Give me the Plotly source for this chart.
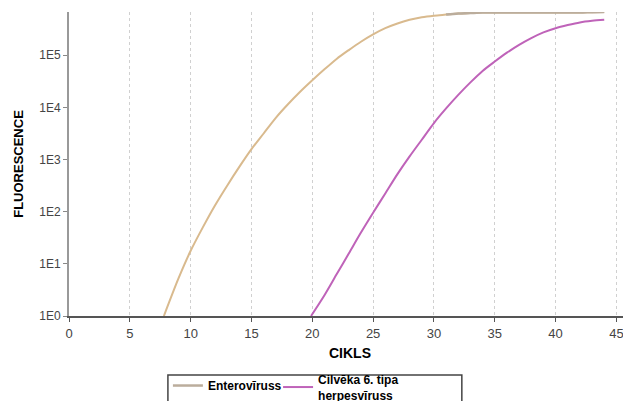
import plotly.graph_objects as go

# Data
entero_cycles = [7.8, 9, 10, 11, 12, 13, 14, 15, 16, 17, 18, 19, 20, 21, 22, 23, 24, 25,
                 26, 27, 28, 29, 30, 31, 32, 33, 34, 35, 36, 37, 38, 39, 40, 41, 42, 43, 44]
entero_fluor = [1.0, 5.25, 17.8, 50.1, 131.8, 316, 724, 1585, 3162, 6310, 11480, 19950,
                33110, 53700, 85110, 125900, 182000, 251200, 331100, 407400, 478600, 537000,
                575400, 602600, 631000, 645700, 660700, 660700, 660700, 660700, 660700,
                660700, 660700, 660700, 660700, 670000, 676000]
entero_plateau_cycles = [31, 32, 33, 34, 35, 36, 37, 38, 39, 40, 41, 42, 43, 44]
entero_plateau_fluor = [602600, 631000, 645700, 660700, 660700, 660700, 660700, 660700,
                        660700, 660700, 660700, 660700, 670000, 676000]

hhv6_cycles = [19.9, 21, 22, 23, 24, 25, 26, 27, 28, 29, 30, 31, 32, 33, 34, 35, 36, 37,
               38, 39, 40, 41, 42, 43, 44]
hhv6_fluor = [1.0, 2.5, 6.3, 15.8, 39.8, 95.5, 224, 525, 1148, 2399, 5012, 9550, 17380,
              30200, 50120, 75860, 112200, 158500, 213800, 275400, 331100, 380200,
              426600, 457100, 478600]

x_ticks = [0, 5, 10, 15, 20, 25, 30, 35, 40, 45]
y_tickvals = [1, 10, 100, 1000, 10000, 100000]
y_ticktext = ["1E0", "1E1", "1E2", "1E3", "1E4", "1E5"]

fig = go.Figure()
fig.add_trace(go.Scatter(x=entero_cycles, y=entero_fluor, mode="lines",
                         name="<b>Enterovīruss</b>",
                         line=dict(color="#D9BA8E", width=2, shape="spline", smoothing=0.8),
                         legendgroup="e", showlegend=False))
fig.add_trace(go.Scatter(x=entero_plateau_cycles, y=entero_plateau_fluor, mode="lines",
                         name="<b>Enterovīruss</b>",
                         line=dict(color="#BBAD9C", width=2.5, shape="spline", smoothing=0.8),
                         legendgroup="e", showlegend=True, legend="legend"))
fig.add_trace(go.Scatter(x=hhv6_cycles, y=hhv6_fluor, mode="lines",
                         name="<b>Cilvēka 6. tipa<br>herpesvīruss</b>",
                         line=dict(color="#BF63B9", width=2, shape="spline", smoothing=0.8),
                         legend="legend2"))

legend_font = dict(size=12, color="#000", family="Liberation Sans, Arial, sans-serif")

fig.update_layout(
    width=631, height=401,
    margin=dict(l=61, r=8, t=4, b=93, autoexpand=False),
    paper_bgcolor="white", plot_bgcolor="white",
    font=dict(family="Liberation Sans, Arial, sans-serif", color="#000"),
    showlegend=True,
    legend=dict(orientation="h", x=0.176, y=-0.181, xanchor="left", yanchor="top",
                bgcolor="rgba(0,0,0,0)", borderwidth=0, font=legend_font, itemwidth=30),
    legend2=dict(orientation="h", x=0.372, y=-0.161, xanchor="left", yanchor="top",
                 bgcolor="rgba(0,0,0,0)", borderwidth=0, font=legend_font, itemwidth=30),
    shapes=[dict(type="rect", xref="paper", yref="paper", x0=0.176, x1=0.699,
                 y0=-0.194, y1=-0.40, line=dict(color="#444", width=1.5),
                 fillcolor="white", layer="below")],
)
fig.update_xaxes(
    range=[0, 46.2], tickvals=x_ticks, ticks="outside", ticklen=4, tickcolor="#555",
    showline=True, linecolor="#555", linewidth=2, automargin=False,
    showgrid=True, gridcolor="#D0D0D0", griddash="dot", gridwidth=1,
    tickfont=dict(size=13, color="#444"), zeroline=False,
    title=dict(text="<b>CIKLS</b>", font=dict(size=14, color="#000"), standoff=9),
)
fig.update_yaxes(
    type="log", range=[0, 5.83], tickvals=y_tickvals, ticktext=y_ticktext,
    ticks="outside", ticklen=4, tickcolor="#888", automargin=False,
    showline=True, linecolor="#999", linewidth=2, showgrid=False, zeroline=False,
    tickfont=dict(size=12, color="#444"),
    title=dict(text="<b>FLUORESCENCE</b>", font=dict(size=13, color="#000"), standoff=13),
)

fig.write_html("out.html")
